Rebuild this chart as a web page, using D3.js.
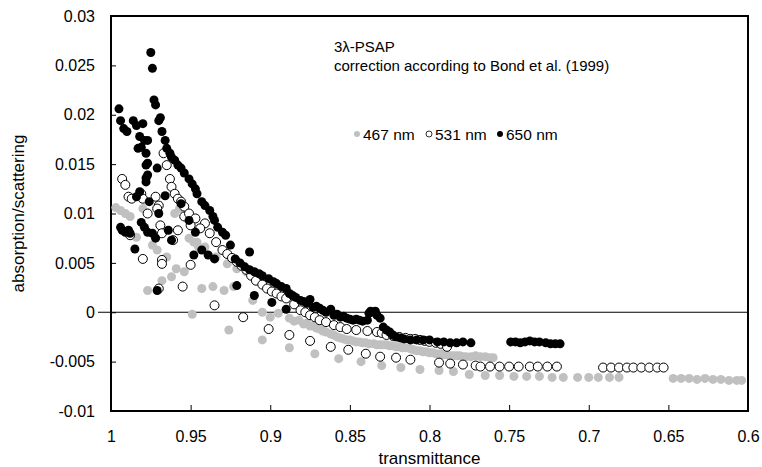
<!DOCTYPE html>
<html lang="en">
<head>
<meta charset="UTF-8">
<title>3λ-PSAP absorption/scattering</title>
<script src="https://cdn.jsdelivr.net/npm/d3@7/dist/d3.min.js"></script>
<style>
  body { margin: 0; background: #fff; }
  text { font-family: "Liberation Sans", Arial, sans-serif; fill: #000; }
</style>
</head>
<body>
<script>
// [transmittance, absorption/scattering]
var nm467 = [
  [0.997, 0.0106], [0.994, 0.0103], [0.991, 0.0100], [0.988, 0.0097], [0.984, 0.0076],
  [0.980, 0.0105], [0.977, 0.0022], [0.974, 0.0068], [0.971, 0.0063], [0.968, 0.0032],
  [0.965, 0.0056], [0.962, 0.0036], [0.960, 0.0100], [0.959, 0.0044], [0.957, 0.0105],
  [0.954, 0.0041], [0.951, 0.0075], [0.949, -0.0002], [0.948, 0.0071], [0.946, 0.0071],
  [0.945, 0.0066], [0.943, 0.0024], [0.941, 0.0066], [0.936, 0.0026], [0.934, 0.0056],
  [0.929, 0.0022], [0.927, 0.0049], [0.926, -0.0018], [0.923, 0.0026], [0.921, 0.0044],
  [0.915, 0.0041], [0.911, 0.0012], [0.906, 0.0032], [0.905, 0.0000], [0.905, -0.0028],
  [0.900, -0.0005], [0.898, 0.0024], [0.895, -0.0001], [0.892, 0.0019], [0.888, -0.0006],
  [0.888, -0.0036], [0.885, -0.0009], [0.882, -0.0008], [0.879, -0.0012], [0.877, -0.0011],
  [0.875, -0.0014], [0.873, -0.0014], [0.872, -0.0042], [0.871, -0.0016], [0.869, -0.0017],
  [0.867, -0.0019], [0.865, -0.0020], [0.862, -0.0022], [0.860, -0.0023], [0.858, -0.0025],
  [0.857, -0.0047], [0.856, -0.0026], [0.854, -0.0027], [0.852, -0.0028], [0.850, -0.0028],
  [0.848, -0.0029], [0.846, -0.0030], [0.844, -0.0030], [0.843, -0.0050], [0.842, -0.0031],
  [0.840, -0.0031], [0.838, -0.0032], [0.835, -0.0032], [0.833, -0.0033], [0.831, -0.0033],
  [0.830, -0.0054], [0.829, -0.0033], [0.827, -0.0033], [0.825, -0.0034], [0.823, -0.0034],
  [0.821, -0.0035], [0.819, -0.0035], [0.818, -0.0056], [0.817, -0.0036], [0.815, -0.0036],
  [0.812, -0.0037], [0.810, -0.0038], [0.808, -0.0039], [0.806, -0.0039], [0.806, -0.0058],
  [0.804, -0.0040], [0.802, -0.0040], [0.800, -0.0041], [0.798, -0.0041], [0.796, -0.0042],
  [0.794, -0.0059], [0.793, -0.0042], [0.791, -0.0043], [0.789, -0.0043], [0.787, -0.0044],
  [0.785, -0.0044], [0.785, -0.0060], [0.783, -0.0044], [0.781, -0.0044], [0.779, -0.0045],
  [0.777, -0.0045], [0.775, -0.0063], [0.774, -0.0045], [0.771, -0.0044], [0.768, -0.0045],
  [0.765, -0.0045], [0.762, -0.0046], [0.760, -0.0046],
  [0.765, -0.0064], [0.756, -0.0064], [0.747, -0.0065], [0.739, -0.0065], [0.731, -0.0065],
  [0.723, -0.0066], [0.716, -0.0066], [0.707, -0.0066], [0.700, -0.0066], [0.694, -0.0066],
  [0.687, -0.0066], [0.681, -0.0066],
  [0.647, -0.0067], [0.642, -0.0067], [0.637, -0.0067], [0.632, -0.0068], [0.627, -0.0067],
  [0.622, -0.0068], [0.617, -0.0068], [0.612, -0.0069], [0.607, -0.0069], [0.604, -0.0069]
];

var nm531 = [
  [0.993, 0.0135], [0.991, 0.0129], [0.989, 0.0117], [0.987, 0.0115], [0.981, 0.0120],
  [0.980, 0.0115], [0.977, 0.0100], [0.972, 0.0117], [0.970, 0.0108], [0.988, 0.0078],
  [0.980, 0.0054], [0.968, 0.0053], [0.968, 0.0049], [0.970, 0.0024], [0.955, 0.0026],
  [0.950, 0.0048], [0.958, 0.0083], [0.954, 0.0097], [0.969, 0.0088], [0.968, 0.0080],
  [0.971, 0.0105], [0.961, 0.0073], [0.935, 0.0007], [0.917, -0.0005], [0.901, -0.0017],
  [0.888, -0.0023], [0.875, -0.0029], [0.862, -0.0035], [0.851, -0.0038], [0.840, -0.0042],
  [0.831, -0.0045], [0.821, -0.0046], [0.812, -0.0048], [0.794, -0.0051], [0.787, -0.0052],
  [0.779, -0.0053], [0.771, -0.0054],
  [0.967, 0.0161], [0.965, 0.0149], [0.963, 0.0135], [0.962, 0.0127], [0.960, 0.0120],
  [0.958, 0.0115], [0.956, 0.0112], [0.954, 0.0107], [0.951, 0.0100], [0.947, 0.0095],
  [0.941, 0.0090], [0.950, 0.0088], [0.944, 0.0085], [0.938, 0.0080], [0.934, 0.0071],
  [0.930, 0.0063], [0.927, 0.0059], [0.924, 0.0055], [0.921, 0.0051], [0.918, 0.0047],
  [0.915, 0.0043], [0.912, 0.0037], [0.909, 0.0032], [0.905, 0.0028], [0.902, 0.0024],
  [0.899, 0.0021], [0.896, 0.0019], [0.893, 0.0016], [0.890, 0.0014], [0.885, 0.0008],
  [0.881, 0.0002], [0.878, 0.0000], [0.875, -0.0003], [0.872, -0.0005], [0.869, -0.0008],
  [0.865, -0.0010], [0.860, -0.0013], [0.856, -0.0015], [0.852, -0.0017], [0.846, -0.0018],
  [0.839, -0.0019], [0.833, -0.0020], [0.830, -0.0021], [0.827, -0.0023], [0.823, -0.0024],
  [0.819, -0.0025], [0.815, -0.0026], [0.812, -0.0027], [0.809, -0.0027], [0.806, -0.0028],
  [0.803, -0.0029], [0.800, -0.0030], [0.796, -0.0031], [0.793, -0.0032], [0.789, -0.0035],
  [0.768, -0.0055], [0.762, -0.0055], [0.756, -0.0055], [0.750, -0.0055], [0.744, -0.0055],
  [0.737, -0.0055], [0.732, -0.0055], [0.726, -0.0055], [0.720, -0.0055],
  [0.691, -0.0056], [0.686, -0.0056], [0.681, -0.0056], [0.676, -0.0056], [0.672, -0.0056],
  [0.667, -0.0056], [0.662, -0.0056], [0.657, -0.0056], [0.653, -0.0056]
];

var nm650 = [
  [0.975, 0.0263], [0.974, 0.0247], [0.973, 0.0215], [0.972, 0.0210], [0.969, 0.0197],
  [0.970, 0.0194], [0.995, 0.0206], [0.994, 0.0194], [0.992, 0.0186], [0.990, 0.0183],
  [0.986, 0.0194], [0.984, 0.0189], [0.980, 0.0191], [0.982, 0.0178], [0.979, 0.0174],
  [0.977, 0.0174], [0.983, 0.0166], [0.981, 0.0167], [0.978, 0.0161], [0.977, 0.0151],
  [0.978, 0.0149], [0.971, 0.0146], [0.977, 0.0139], [0.978, 0.0136], [0.978, 0.0132],
  [0.968, 0.0183], [0.966, 0.0174], [0.965, 0.0166], [0.963, 0.0161], [0.962, 0.0157],
  [0.960, 0.0154], [0.958, 0.0149], [0.956, 0.0146], [0.954, 0.0141], [0.951, 0.0135],
  [0.949, 0.0130], [0.947, 0.0125], [0.946, 0.0120], [0.943, 0.0112], [0.941, 0.0108],
  [0.938, 0.0103], [0.936, 0.0097], [0.935, 0.0093], [0.933, 0.0086], [0.930, 0.0081],
  [0.928, 0.0078],
  [0.922, 0.0054], [0.919, 0.0050], [0.916, 0.0046], [0.913, 0.0043], [0.910, 0.0041],
  [0.907, 0.0039], [0.905, 0.0037], [0.901, 0.0034], [0.898, 0.0031], [0.896, 0.0029],
  [0.893, 0.0026], [0.890, 0.0024], [0.888, 0.0019], [0.886, 0.0017], [0.884, 0.0015],
  [0.881, 0.0012], [0.879, 0.0011], [0.877, 0.0009], [0.875, 0.0013], [0.873, 0.0005],
  [0.871, 0.0006], [0.869, 0.0004], [0.867, 0.0002], [0.865, 0.0000], [0.862, 0.0003],
  [0.860, -0.0003], [0.858, -0.0002], [0.856, -0.0005], [0.854, -0.0004], [0.852, -0.0006],
  [0.850, -0.0007], [0.848, -0.0008], [0.846, -0.0007], [0.844, -0.0008], [0.842, -0.0009],
  [0.839, -0.0008],
  [0.838, -0.0001], [0.837, 0.0001], [0.835, 0.0000], [0.834, 0.0001], [0.833, -0.0003],
  [0.831, -0.0006],
  [0.829, -0.0015], [0.827, -0.0018], [0.825, -0.0020], [0.823, -0.0023], [0.821, -0.0025],
  [0.818, -0.0026], [0.816, -0.0027], [0.812, -0.0028], [0.808, -0.0028], [0.804, -0.0028],
  [0.800, -0.0028], [0.795, -0.0030], [0.791, -0.0030], [0.787, -0.0031], [0.783, -0.0031],
  [0.779, -0.0030], [0.774, -0.0031],
  [0.749, -0.0030], [0.746, -0.0030], [0.743, -0.0031], [0.740, -0.0030], [0.737, -0.0029],
  [0.734, -0.0030], [0.731, -0.0030], [0.727, -0.0031], [0.724, -0.0032], [0.721, -0.0032],
  [0.718, -0.0032],
  [0.994, 0.0086], [0.993, 0.0083], [0.991, 0.0081], [0.989, 0.0083], [0.988, 0.0080],
  [0.984, 0.0117], [0.985, 0.0064], [0.981, 0.0091], [0.979, 0.0086], [0.977, 0.0081],
  [0.974, 0.0080], [0.972, 0.0075], [0.970, 0.0100], [0.966, 0.0118], [0.964, 0.0083],
  [0.962, 0.0073], [0.956, 0.0110], [0.951, 0.0093], [0.947, 0.0081], [0.948, 0.0058],
  [0.971, 0.0022], [0.982, 0.0122], [0.976, 0.0112], [0.943, 0.0063], [0.939, 0.0058],
  [0.935, 0.0054], [0.921, 0.0027], [0.910, 0.0017], [0.899, 0.0010], [0.890, 0.0003],
  [0.925, 0.0068], [0.913, 0.0061]
];

var xTicks = [1, 0.95, 0.9, 0.85, 0.8, 0.75, 0.7, 0.65, 0.6];
var yTicks = [-0.01, -0.005, 0, 0.005, 0.01, 0.015, 0.02, 0.025, 0.03];
var seriesNames = ['467 nm', '531 nm', '650 nm'];

var width = 762,
    height = 467;
var padding = { top: 16, right: 14, bottom: 56, left: 111 };

var svg = d3.select('body').append('svg')
  .attr('width', width)
  .attr('height', height);

var xScale = d3.scaleLinear()
  .domain([1, 0.6])
  .range([padding.left, width - padding.right]);
var yScale = d3.scaleLinear()
  .domain([-0.01, 0.03])
  .range([height - padding.bottom, padding.top]);

var fmt = function(d) { return String(+d.toFixed(3)); };

// y axis, ticks pointing inside
var yAxis = d3.axisLeft(yScale).tickValues(yTicks).tickSize(-5).tickPadding(16).tickFormat(fmt);
var gy = svg.append('g')
  .attr('transform', `translate(${padding.left},0)`)
  .call(yAxis);
gy.select('.domain').remove();
gy.selectAll('.tick line').attr('stroke', '#000');
gy.selectAll('.tick text').attr('font-size', 16);

// x axis at the bottom, ticks pointing inside
var xAxis = d3.axisBottom(xScale).tickValues(xTicks).tickSize(-6).tickPadding(20).tickFormat(fmt);
var gx = svg.append('g')
  .attr('transform', `translate(0,${height - padding.bottom})`)
  .call(xAxis);
gx.select('.domain').remove();
gx.selectAll('.tick line').attr('stroke', '#000');
gx.selectAll('.tick text').attr('font-size', 16);

// zero line
svg.append('line')
  .attr('x1', padding.left - 13)
  .attr('x2', width - padding.right)
  .attr('y1', yScale(0))
  .attr('y2', yScale(0))
  .attr('stroke', '#000')
  .attr('stroke-width', 1.2);

// plot frame
svg.append('rect')
  .attr('x', padding.left)
  .attr('y', padding.top)
  .attr('width', width - padding.left - padding.right)
  .attr('height', height - padding.top - padding.bottom)
  .attr('fill', 'none')
  .attr('stroke', '#000')
  .attr('stroke-width', 2);

function drawSeries(data, fill, stroke) {
  svg.append('g').selectAll('circle')
    .data(data)
    .enter().append('circle')
    .attr('cx', d => xScale(d[0]))
    .attr('cy', d => yScale(d[1]))
    .attr('r', 4.5)
    .attr('fill', fill)
    .attr('stroke', stroke)
    .attr('stroke-width', 1);
}

drawSeries(nm467, '#c0c0c0', 'none');
drawSeries(nm531, '#fff', '#000');
drawSeries(nm650, '#000', 'none');

// annotation
svg.append('text')
  .attr('x', 334).attr('y', 52)
  .attr('font-size', 15)
  .text('3λ-PSAP');
svg.append('text')
  .attr('x', 334).attr('y', 71)
  .attr('font-size', 15)
  .text('correction according to Bond et al. (1999)');

// legend
var legendX = [357, 429, 500];
var legendStyle = [['#c0c0c0', 'none'], ['#fff', '#000'], ['#000', 'none']];
var lg = svg.append('g').attr('transform', 'translate(0,135)');
seriesNames.forEach(function(name, i) {
  lg.append('circle')
    .attr('cx', legendX[i]).attr('cy', -1)
    .attr('r', 3)
    .attr('fill', legendStyle[i][0])
    .attr('stroke', legendStyle[i][1])
    .attr('stroke-width', 0.8);
  lg.append('text')
    .attr('x', legendX[i] + 6).attr('y', 5)
    .attr('font-size', 15.5)
    .text(name);
});

// axis titles
svg.append('text')
  .attr('x', xScale(0.8)).attr('y', height - 3)
  .attr('text-anchor', 'middle')
  .attr('font-size', 17)
  .text('transmittance');
svg.append('text')
  .attr('transform', `translate(24,${(padding.top + height - padding.bottom) / 2}) rotate(-90)`)
  .attr('text-anchor', 'middle')
  .attr('font-size', 17)
  .text('absorption/scattering');
</script>
</body>
</html>
